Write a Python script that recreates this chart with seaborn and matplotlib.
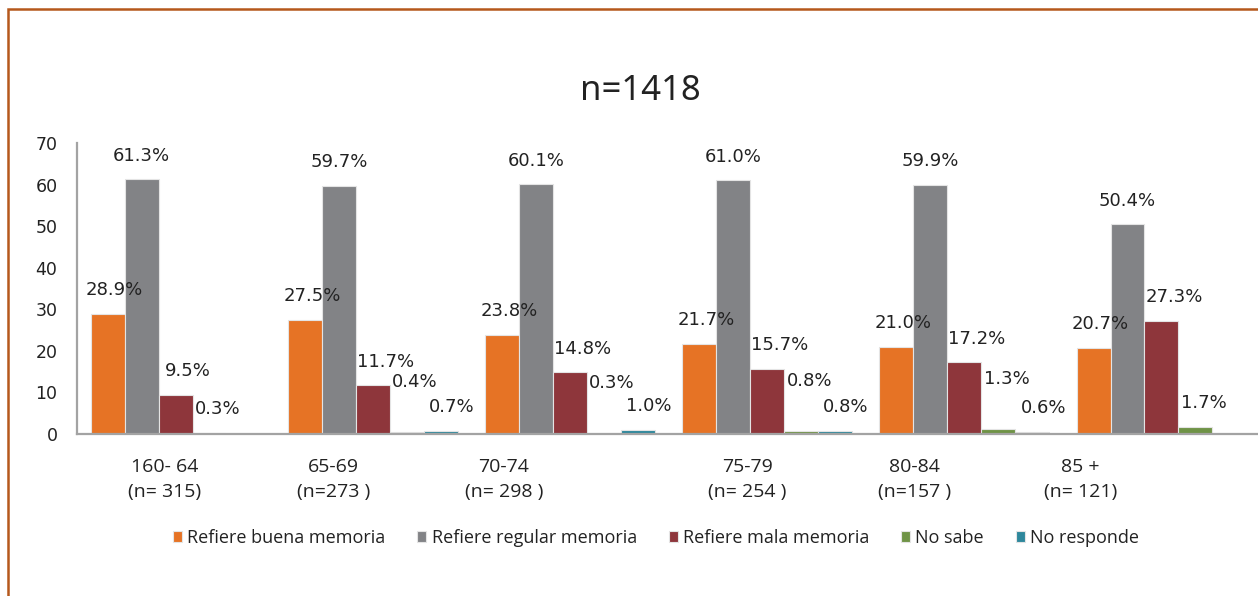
import numpy as np
import pandas as pd
import seaborn as sns
import matplotlib.pyplot as plt
from matplotlib.patches import Rectangle
from matplotlib.transforms import ScaledTranslation

# --- datos ---
grupos = ["160- 64\n(n= 315)", "65-69\n(n=273 )", "70-74\n(n= 298 )",
          "75-79\n(n= 254 )", "80-84\n(n=157 )", "85 +\n(n= 121)"]
series = ["Refiere buena memoria", "Refiere regular memoria",
          "Refiere mala memoria", "No sabe", "No responde"]
buena = [28.9, 27.5, 23.8, 21.7, 21.0, 20.7]
regular = [61.3, 59.7, 60.1, 61.0, 59.9, 50.4]
mala = [9.5, 11.7, 14.8, 15.7, 17.2, 27.3]
no_sabe = [0.3, 0.4, 0.3, 0.8, 1.3, 1.7]
no_responde = [np.nan, 0.7, 1.0, 0.8, 0.6, np.nan]
colores = ["#E67325", "#828386", "#8E363B", "#6F9346", "#2E879C"]

valores = [buena, regular, mala, no_sabe, no_responde]
df = pd.DataFrame({
    "grupo": np.tile(grupos, len(series)),
    "serie": np.repeat(series, len(grupos)),
    "pct": np.concatenate(valores),
})

sns.set_style("white")
plt.rcParams['font.family'] = ['DejaVu Sans']

fig = plt.figure(figsize=(12.58, 5.96), dpi=100)
ax = fig.add_axes([77 / 1258, 162 / 596, 1183 / 1258, 291 / 596])

sns.barplot(data=df, x="grupo", y="pct", hue="serie", order=grupos,
            hue_order=series, palette=colores, saturation=1, width=0.86,
            gap=0, edgecolor="#e4e4e4", linewidth=0.8, ax=ax)

ax.set_xlim(-0.5, 5.5)
ax.set_ylim(0, 70)
ax.set_yticks(range(0, 71, 10))
ax.set_xlabel("")
ax.set_ylabel("")
for s in ["top", "right"]:
    ax.spines[s].set_visible(False)
for s in ["left", "bottom"]:
    ax.spines[s].set_color("#a3a3a3")
    ax.spines[s].set_linewidth(1.6)
ax.tick_params(axis="y", length=0, pad=14, labelsize=12.5, labelcolor="#222222")
ax.tick_params(axis="x", length=0, pad=17, labelsize=14, labelcolor="#222222")

# los rotulos de grupo no estan centrados en el original
desplaz_px = [-11, -39, -66, -20, -50, -81]
for t, d in zip(ax.get_xticklabels(), desplaz_px):
    t.set_fontfamily("Open Sans")
    t.set_linespacing(1.5)
    t.set_transform(t.get_transform() + ScaledTranslation(d / 100, 0, fig.dpi_scale_trans))

# etiquetas de porcentaje
dx = [5, 0, 9, 6, 8]
for k, cont in enumerate(ax.containers):
    for bar in cont:
        h = bar.get_height()
        if np.isnan(h):
            continue
        xc = bar.get_x() + bar.get_width() / 2
        g = int(round(xc))
        dy = 17
        if k == 3 and not np.isnan(no_responde[g]):
            dy = 36
        ax.annotate(f"{h:.1f}%", (xc, h), xytext=(dx[k], dy),
                    textcoords="offset points", ha="center", va="center",
                    fontsize=13, color="#222222")

sns.move_legend(ax, "center", bbox_to_anchor=(656 / 1258, 1 - 538 / 596),
                bbox_transform=fig.transFigure, ncol=5, frameon=False,
                title=None, fontsize=13, handlelength=0.5, handleheight=0.5,
                handletextpad=0.3, columnspacing=1.75)
for t in ax.get_legend().get_texts():
    t.set_fontfamily("Open Sans")
    t.set_color("#222222")

fig.text(640 / 1258, 1 - 91 / 596, "n=1418", ha="center", va="center",
         fontsize=25, family="Noto Sans", fontweight="medium", color="#222222")

# marco naranja
fig.add_artist(Rectangle((7.5 / 1258, -0.1), 1.1, 1.1 - 8.5 / 596,
                         transform=fig.transFigure, fill=False,
                         edgecolor="#B5581C", linewidth=1.8))

fig.savefig("out.png", dpi=100)
